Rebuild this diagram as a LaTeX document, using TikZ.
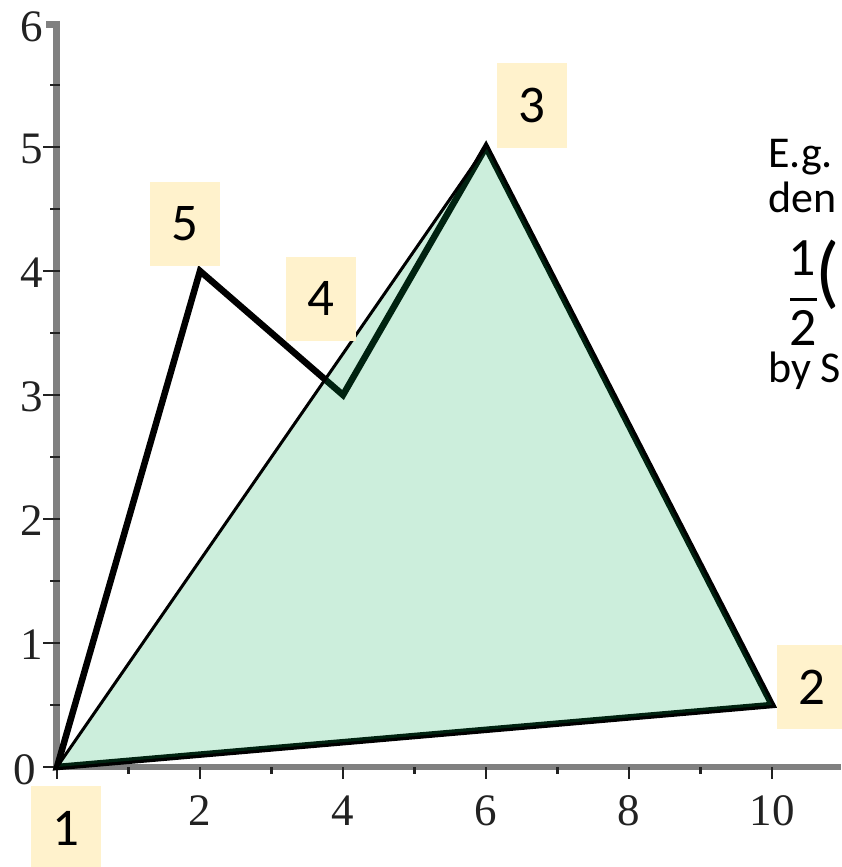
\documentclass[tikz,border=0pt]{standalone}
\usepackage{fontspec}
\setmainfont{Carlito}
\newfontfamily\axisfont{Liberation Serif}
\definecolor{axisgray}{RGB}{128,128,128}
\definecolor{tickdark}{RGB}{34,34,34}
\definecolor{areagreen}{RGB}{0,170,80}
\definecolor{labelgold}{RGB}{255,242,204}
\begin{document}
\begin{tikzpicture}[x=1pt,y=-1pt,
  axisline/.style={draw=axisgray},
  tickmark/.style={draw=tickdark,line width=2.5pt},
  axislabel/.style={font=\axisfont\fontsize{45}{45}\selectfont,text=tickdark,inner sep=0pt},
  vlabel/.style={fill=labelgold,minimum width=70pt,minimum height=84pt,inner sep=0pt,
    font=\fontsize{53}{53}\selectfont},
  polyline/.style={draw=black,line width=6.5pt},
  diagline/.style={draw=black,line width=3pt},
  sidetext/.style={font=\fontsize{44}{44}\selectfont,inner sep=0pt,anchor=base west},
  fracdigit/.style={font=\fontsize{54}{54}\selectfont,inner sep=0pt,anchor=base,
    text height=34pt,text depth=0pt}]
\useasboundingbox (0,0) rectangle (841,867);
\fill[white] (0,0) rectangle (841,867);
% axes
\draw[axisline,line width=6pt] (53,767) -- (841,767);
\draw[axisline,line width=7pt] (56.5,21) -- (56.5,770);
% y ticks
\foreach \v in {0,1,2,3,4,5} {\draw[tickmark] (43,{767-124*\v}) -- (60,{767-124*\v});}
\foreach \v in {0.5,1.5,2.5,3.5,4.5,5.5} {\draw[tickmark] (50,{767-124*\v}) -- (60,{767-124*\v});}
\draw[axisgray,line width=7pt] (46,24.5) -- (60,24.5);
% x ticks
\foreach \u in {0,2,4,6,8,10} {\draw[tickmark] ({57+71.5*\u},767) -- ({57+71.5*\u},779);}
\foreach \u in {1,3,5,7,9} {\draw[tickmark] ({57+71.5*\u},767) -- ({57+71.5*\u},774);}
% axis labels
\node[axislabel,anchor=east] (y6) at (43,27) {6};
\node[axislabel,anchor=east] (y5) at (43,149) {5};
\node[axislabel,anchor=east] (y4) at (43,273) {4};
\node[axislabel,anchor=east] (y3) at (43,397) {3};
\node[axislabel,anchor=east] (y2) at (43,521) {2};
\node[axislabel,anchor=east] (y1) at (43,645) {1};
\node[axislabel,anchor=east] (y0) at (36,770) {0};
\node[axislabel] (x2) at (200,811) {2};
\node[axislabel] (x4) at (343,811) {4};
\node[axislabel] (x6) at (486,811) {6};
\node[axislabel] (x8) at (629,811) {8};
\node[axislabel] (x10) at (772,811) {10};
% vertices
\coordinate (p1) at (57,767);
\coordinate (p2) at (772,705);
\coordinate (p3) at (486,147);
\coordinate (p4) at (343,395);
\coordinate (p5) at (200,271);
% polygon
\draw[polyline] (p1) -- (p2) -- (p3) -- (p4) -- (p5) -- cycle;
\fill[areagreen,fill opacity=0.2] (p1) -- (p2) -- (p3) -- cycle;
\draw[diagline] (p1) -- (p3);
% vertex labels
\node[vlabel] (l1) at (66,828) {1};
\node[vlabel] (l2) at (812,687) {2};
\node[vlabel] (l3) at (532,105.5) {3};
\node[vlabel] (l4) at (321,298.5) {4};
\node[vlabel] (l5) at (185,224) {5};
% side text
\node[sidetext] (t1) at (768,167) {E.g.};
\node[sidetext] (t2) at (768,212) {den};
\node[fracdigit] (fn) at (802,275) {1};
\draw[line width=3pt] (790,299) -- (817,299);
\node[fracdigit] (fd) at (803,345) {2};
\node[font=\fontsize{80}{80}\selectfont,inner sep=0pt,text height=30pt,text depth=30pt] (fp) at (828,298) {(};
\node[sidetext,text height=30pt,text depth=8pt] (t3) at (768,382) {by S};
\end{tikzpicture}
\end{document}
